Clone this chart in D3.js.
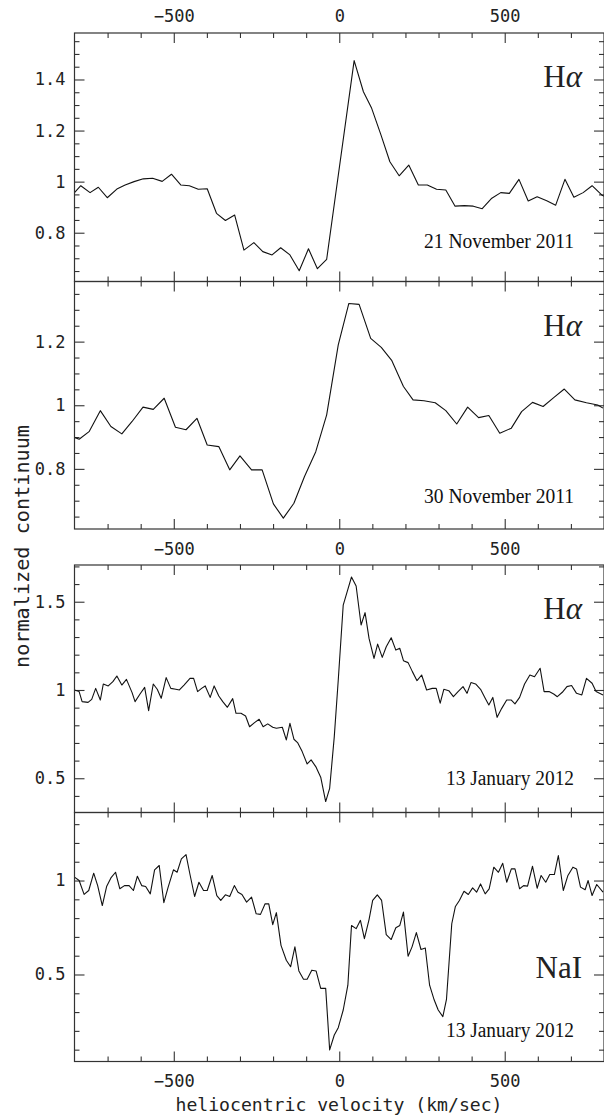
<!DOCTYPE html>
<html>
<head>
<meta charset="utf-8">
<script src="https://cdn.jsdelivr.net/npm/d3@7"></script>
<style>
  body { margin: 0; background: #fff; }
  svg { display: block; }
  .tick text { font-family: "DejaVu Sans Mono", monospace; font-size: 17px; fill: #222; }
  .frame { fill: none; stroke: #333; stroke-width: 1.2; }
  .ticks line { stroke: #333; stroke-width: 1.1; }
  .spec { fill: none; stroke: #111; stroke-width: 1.1; stroke-linejoin: round; }
</style>
</head>
<body>
<svg id="chart" width="604" height="1120"></svg>
<script>
// Spectra: heliocentric velocity (km/s) and normalized flux
var vel1  = [-800,-781,-753,-728,-701,-672,-647,-620,-592,-564,-535,-507,-479,-453,-426,-399,-371,-344,-316,-288,-258,-231,-203,-177,-149,-121,-93,-66,-38,45,73,98,126,153,181,210,239,266,294,322,350,378,405,432,461,488,514,543,571,598,627,654,682,709,737,764,793,821];
var flux1 = [0.957,0.984,0.957,0.978,0.937,0.971,0.987,1.000,1.011,1.013,1.001,1.029,0.987,0.984,0.970,0.972,0.876,0.848,0.869,0.732,0.761,0.726,0.713,0.741,0.713,0.651,0.737,0.659,0.696,1.474,1.352,1.287,1.183,1.078,1.023,1.065,0.987,0.987,0.970,0.967,0.904,0.906,0.904,0.894,0.935,0.957,0.954,1.009,0.924,0.941,0.925,0.908,1.009,0.939,0.957,0.984,0.948,0.930];

var vel2  = [-800,-786,-756,-722,-690,-657,-626,-593,-562,-529,-495,-463,-430,-399,-364,-331,-300,-265,-233,-199,-169,-137,-105,-71,-38,-3,29,60,95,127,159,194,223,256,290,322,355,388,421,452,485,520,551,584,616,648,680,712,747,781,797];
var flux2 = [0.899,0.893,0.917,0.983,0.933,0.910,0.949,0.994,0.987,1.022,0.931,0.923,0.959,0.875,0.870,0.797,0.841,0.797,0.797,0.690,0.645,0.692,0.776,0.854,0.970,1.190,1.320,1.317,1.210,1.182,1.140,1.059,1.017,1.014,1.008,0.983,0.941,0.994,0.961,0.968,0.912,0.928,0.980,1.009,0.996,1.024,1.051,1.017,1.008,1.001,0.991];

var vel3  = [-800,-786,-777,-759,-748,-736,-722,-713,-698,-684,-672,-657,-643,-626,-617,-602,-588,-576,-562,-550,-538,-523,-509,-494,-483,-469,-451,-440,-428,-416,-405,-390,-378,-364,-352,-338,-322,-312,-297,-283,-271,-256,-242,-230,-216,-201,-190,-172,-160,-149,-137,-126,-112,-97,-85,-71,-56,-41,-29,-15,-3,12,26,37,51,66,78,90,105,116,130,142,157,171,183,194,208,221,235,249,264,281,293,305,316,331,345,359,374,386,398,412,427,441,452,464,477,491,506,520,531,545,560,576,590,607,619,634,648,659,674,688,702,717,733,747,764,776,797];
var flux3 = [1.000,0.991,0.934,0.930,0.947,1.009,0.943,1.034,1.023,1.047,1.079,1.028,1.060,0.985,0.934,0.977,1.015,0.883,1.034,1.004,0.953,1.070,1.009,1.004,1.000,1.028,1.066,1.066,0.991,1.009,1.023,0.958,1.023,0.966,0.934,0.902,0.951,0.868,0.868,0.853,0.792,0.815,0.834,0.792,0.808,0.789,0.783,0.789,0.717,0.811,0.721,0.702,0.651,0.581,0.604,0.566,0.506,0.368,0.443,0.736,1.057,1.481,1.570,1.640,1.589,1.368,1.438,1.292,1.179,1.260,1.185,1.245,1.296,1.226,1.236,1.166,1.155,1.104,1.053,1.085,1.000,1.009,1.009,0.925,1.004,0.996,0.962,0.991,1.019,0.981,1.042,1.034,1.004,0.953,0.915,0.958,0.845,0.896,0.943,0.943,0.921,0.958,1.034,1.085,1.075,1.123,0.991,0.991,0.977,0.962,0.987,1.019,1.025,0.981,0.972,1.066,1.038,0.991,0.972];

var vel4  = [-800,-786,-771,-757,-742,-730,-716,-703,-690,-676,-663,-649,-635,-622,-610,-597,-585,-571,-558,-544,-530,-517,-501,-490,-477,-463,-451,-437,-424,-410,-399,-384,-370,-358,-344,-331,-317,-306,-294,-280,-265,-251,-238,-224,-213,-201,-190,-176,-160,-147,-134,-122,-108,-97,-83,-70,-56,-41,-29,-15,-3,12,26,37,51,64,76,90,101,115,128,142,157,171,183,194,208,220,233,247,260,273,287,299,313,324,340,351,363,377,390,403,415,427,441,453,467,481,494,506,520,531,545,557,569,584,598,610,624,636,650,662,677,691,706,717,729,743,752,764,778,797];
var flux4 = [1.018,1.000,0.926,0.947,1.039,0.973,0.867,0.968,1.014,1.044,0.956,0.973,0.973,0.947,1.023,0.973,0.968,0.929,1.057,1.080,0.882,0.965,1.057,1.044,1.115,1.138,1.032,0.915,0.991,0.947,0.947,1.027,0.920,0.894,0.924,0.915,0.973,0.938,0.926,0.885,0.912,0.823,0.820,0.876,0.876,0.765,0.829,0.655,0.576,0.541,0.647,0.519,0.475,0.475,0.523,0.519,0.426,0.426,0.099,0.178,0.217,0.311,0.443,0.761,0.744,0.788,0.691,0.792,0.894,0.924,0.894,0.712,0.686,0.749,0.761,0.832,0.597,0.647,0.723,0.633,0.641,0.443,0.364,0.311,0.276,0.368,0.770,0.862,0.894,0.943,0.926,0.961,0.938,0.982,0.929,0.956,1.071,1.044,1.092,0.991,1.062,1.062,0.956,0.973,0.970,1.076,0.959,1.027,0.991,1.032,1.032,1.133,0.947,1.027,1.071,1.062,0.965,0.951,1.000,0.920,0.979,0.938];

var dates   = ["21 November 2011", "30 November 2011", "13 January 2012", "13 January 2012"];
var species = ["Hα", "Hα", "Hα", "NaI"];
var yDomains = [[0.609, 1.582], [0.611, 1.389], [0.306, 1.708], [0.037, 1.362]];
var yMajor   = [[0.8, 1, 1.2, 1.4], [0.8, 1, 1.2], [0.5, 1, 1.5], [0.5, 1]];
var yMinorStep = [0.05, 0.05, 0.1, 0.1];
var xDomain = [-800, 800];
var xMajor  = [-500, 0, 500];
var xMinor  = [-700, -600, -400, -300, -200, -100, 100, 200, 300, 400, 600, 700];

var spectra = [[vel1, flux1], [vel2, flux2], [vel3, flux3], [vel4, flux4]];

// layout (pixels)
var left = 74.5, right = 604;
var boxes = [
  { top: 33,    bottom: 281.5,  labels: "top",    dateDy: 33.5 },
  { top: 281.5, bottom: 529,    labels: "bottom", dateDy: 26 },
  { top: 565,   bottom: 812.5,  labels: null,     dateDy: 27.5 },
  { top: 812.5, bottom: 1061.5, labels: "bottom", dateDy: 24.5 }
];

var svg = d3.select("#chart");
svg.append("rect").attr("width", 604).attr("height", 1120).attr("fill", "#fff");

var x = d3.scaleLinear().domain(xDomain).range([left, right]);

boxes.forEach(function(b, i) {
  var y = d3.scaleLinear().domain(yDomains[i]).range([b.bottom, b.top]);
  var g = svg.append("g");
  var lo = yDomains[i][0], hi = yDomains[i][1], st = yMinorStep[i];
  var yMinor = d3.range(Math.ceil(lo / st - 1e-6), Math.floor(hi / st + 1e-6) + 1)
    .map(function(k) { return k * st; })
    .filter(function(v) { return yMajor[i].every(function(m) { return Math.abs(m - v) > 1e-6; }); });

  // clip for the spectrum
  svg.append("clipPath").attr("id", "clip" + i)
    .append("rect").attr("x", left).attr("y", b.top)
    .attr("width", right - left).attr("height", b.bottom - b.top);

  // inward ticks on all four sides
  function tickSet(axis, tx, ty) {
    g.append("g").classed("ticks", true)
      .attr("transform", "translate(" + tx + "," + ty + ")")
      .call(axis.tickFormat(""))
      .call(function(s) { s.select(".domain").remove(); });
  }
  tickSet(d3.axisRight(y).tickValues(yMajor[i]).tickSize(10), left, 0);
  tickSet(d3.axisRight(y).tickValues(yMinor).tickSize(5), left, 0);
  tickSet(d3.axisLeft(y).tickValues(yMajor[i]).tickSize(10), right, 0);
  tickSet(d3.axisLeft(y).tickValues(yMinor).tickSize(5), right, 0);
  tickSet(d3.axisBottom(x).tickValues(xMajor).tickSize(10), 0, b.top);
  tickSet(d3.axisBottom(x).tickValues(xMinor).tickSize(5), 0, b.top);
  tickSet(d3.axisTop(x).tickValues(xMajor).tickSize(10), 0, b.bottom);
  tickSet(d3.axisTop(x).tickValues(xMinor).tickSize(5), 0, b.bottom);

  // y tick labels
  g.append("g")
    .attr("transform", "translate(" + left + ",0)")
    .call(d3.axisLeft(y).tickValues(yMajor[i]).tickSize(0).tickPadding(9)
      .tickFormat(function(d) { return String(d); }))
    .call(function(s) { s.select(".domain").remove(); });

  // x tick labels
  if (b.labels === "top") {
    g.append("g").attr("transform", "translate(0," + b.top + ")")
      .call(d3.axisTop(x).tickValues(xMajor).tickSize(0).tickPadding(11.5).tickFormat(d3.format("d")))
      .call(function(s) { s.select(".domain").remove(); });
  } else if (b.labels === "bottom") {
    g.append("g").attr("transform", "translate(0," + b.bottom + ")")
      .call(d3.axisBottom(x).tickValues(xMajor).tickSize(0).tickPadding(13.5).tickFormat(d3.format("d")))
      .call(function(s) { s.select(".domain").remove(); });
  }

  // spectrum
  var pts = d3.zip(spectra[i][0], spectra[i][1]);
  g.append("path").classed("spec", true)
    .attr("clip-path", "url(#clip" + i + ")")
    .attr("d", d3.line().x(function(d) { return x(d[0]); }).y(function(d) { return y(d[1]); })(pts));

  // frame
  g.append("rect").classed("frame", true)
    .attr("x", left).attr("y", b.top)
    .attr("width", right - left).attr("height", b.bottom - b.top);

  // line label
  var lab = g.append("text")
    .attr("x", 582)
    .attr("text-anchor", "end")
    .attr("font-family", "Liberation Serif, serif")
    .attr("font-size", 31)
    .attr("fill", "#222");
  if (species[i] === "Hα") {
    lab.attr("y", b.top + 54);
    lab.append("tspan").text("H");
    lab.append("tspan").attr("font-style", "italic").text("α");
  } else {
    lab.attr("y", y(0.5) + 3.5).text(species[i]);
  }

  // date
  g.append("text")
    .attr("x", 574)
    .attr("y", b.bottom - b.dateDy)
    .attr("text-anchor", "end")
    .attr("font-family", "Liberation Serif, serif")
    .attr("font-size", 20)
    .attr("fill", "#111")
    .attr("textLength", i < 2 ? 150 : 128)
    .attr("lengthAdjust", "spacingAndGlyphs")
    .text(dates[i]);
});

// axis titles
svg.append("text")
  .attr("x", 339)
  .attr("y", 1111)
  .attr("text-anchor", "middle")
  .attr("font-family", "DejaVu Sans Mono, monospace")
  .attr("font-size", 18)
  .attr("fill", "#222")
  .attr("textLength", 327)
  .attr("lengthAdjust", "spacingAndGlyphs")
  .text("heliocentric velocity (km/sec)");

svg.append("text")
  .attr("transform", "translate(29,546.5) rotate(-90)")
  .attr("text-anchor", "middle")
  .attr("font-family", "DejaVu Sans Mono, monospace")
  .attr("font-size", 19)
  .attr("fill", "#222")
  .attr("textLength", 243)
  .attr("lengthAdjust", "spacingAndGlyphs")
  .text("normalized continuum");
</script>
</body>
</html>
